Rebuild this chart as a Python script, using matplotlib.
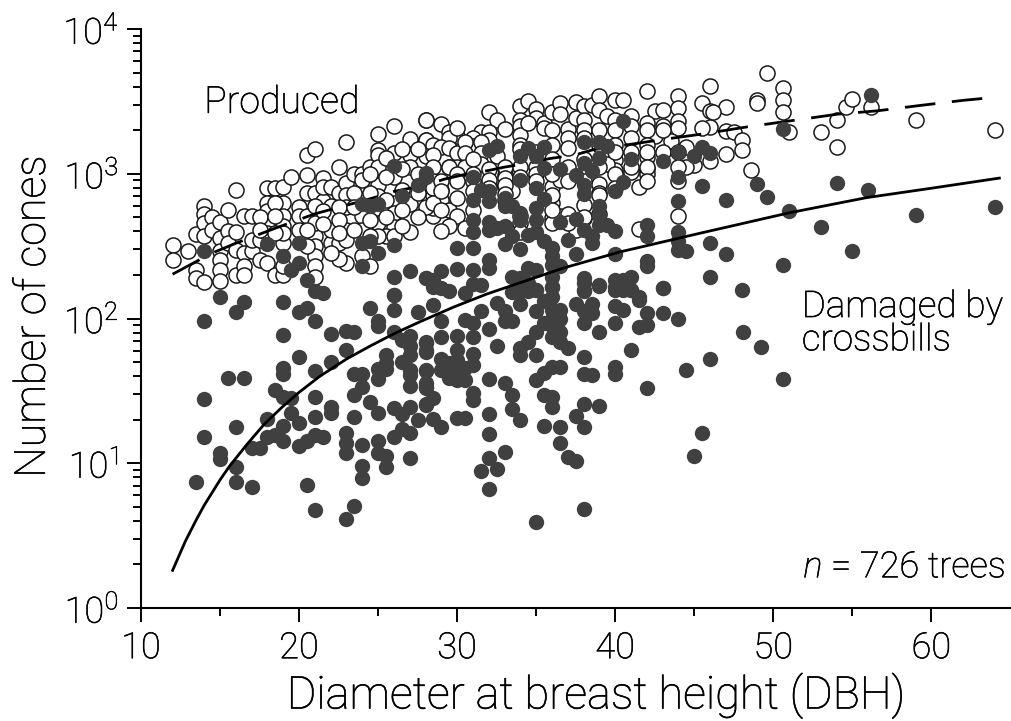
import numpy as np
import matplotlib
matplotlib.use('Agg')
import matplotlib.pyplot as plt
import matplotlib.patheffects as pe

plt.rcParams['font.family'] = ['Roboto', 'DejaVu Sans']
plt.rcParams['font.weight'] = 'light'
plt.rcParams['axes.labelweight'] = 'light'
plt.rcParams['mathtext.fontset'] = 'custom'
plt.rcParams['mathtext.rm'] = 'Roboto:light'
plt.rcParams['mathtext.it'] = 'Roboto:italic:light'
plt.rcParams['mathtext.default'] = 'regular'

# values; cones are kept as log10 because the axis is log
dbh_damaged = [
    15, 16.5, 16, 14, 19, 20, 20.5, 21, 19, 22, 23, 23.5, 24.5, 26, 26, 25, 25, 27.5, 26, 26.5,
    27, 27, 28, 28, 23, 20, 22, 19, 19, 21, 15.5, 16.5, 25.5, 25.5, 25, 25, 25.5, 27, 26.5, 27,
    27, 27, 28, 28, 23.5, 24, 24, 23.5, 18.5, 19, 19.5, 21, 14, 24.5, 25, 26, 28, 19.5, 20, 18,
    21, 22, 22, 23.5, 19, 16, 18, 18.5, 19, 17, 17.5, 14, 20, 20.5, 21, 21.5, 23, 23, 23, 24,
    25, 25, 25.5, 25.5, 26, 27, 27, 26.5, 27.5, 27, 26.5, 15, 15, 16, 16, 17, 13.5, 20.5, 24, 24,
    21, 23.5, 23,
    28.5, 29, 29, 30, 30.5, 31, 31, 31.5, 32, 32.5, 33, 33, 33.5, 32.5, 34, 33.5, 34, 34.5, 35, 35,
    35, 34.5, 34, 34, 35, 36, 36, 35.5, 36.5, 36.5, 36, 36, 36, 36.5, 36, 35.5, 37, 36.5, 37.5, 38,
    38, 38.5, 38, 38, 38.5, 39, 39, 40, 40, 40.5, 40, 40.5, 41, 41.5, 42, 42, 41.5, 43, 43, 44,
    41, 38, 40, 40, 38, 38.5, 36.5, 36, 35.5, 35, 44.5, 46, 42, 32, 33, 33.5, 33.5, 34, 31, 31,
    35.5, 36, 36, 38, 39, 37.5, 38, 35.5, 36.5, 36.5, 37, 37.5, 32, 32, 33, 32, 31.5, 32.5, 32, 38,
    35, 45.5, 45, 30, 30.5, 28.5, 29, 29, 29, 29.5, 30, 30.5, 30, 31, 30, 31, 30, 30.5, 29.5, 28,
    28, 28, 28, 28, 28.5, 28,
    28, 28, 31, 32, 32.5, 34, 34.5, 35, 35.5, 35.5, 36.5, 38, 38, 38.5, 39, 39.5, 39, 37.5, 40.5, 41,
    43, 44, 45, 45.5, 46, 44, 45.5, 44, 40.5, 40, 34, 38, 38, 31.5, 32, 31, 32, 33, 33, 33.5,
    34, 34, 35, 35, 35, 35.5, 39, 39, 37.5, 36.5, 31, 31, 32, 32, 32.5, 33, 33.5, 34.5, 35, 35.5,
    36, 36, 36, 36.5, 36, 36, 38, 38.5, 38.5, 39, 40, 39.5, 37, 37.5, 42, 42, 40, 42, 42, 44,
    44, 44, 44.5, 46, 46, 43, 30, 31, 33, 34, 32, 32, 30, 29, 31, 28, 28.5, 31, 31.5, 33.5,
    34.5, 35, 34, 34.5, 35, 38, 38, 39, 40, 40.5, 41, 40, 40.5, 41, 41.5, 28.5, 29, 29.5, 30.5,
    26, 27.5, 28, 26.5, 24, 24.5, 25, 24, 24.5, 26, 25, 24, 14, 18, 20, 19, 20, 19.5, 20.5, 21, 21.5,
    26, 27, 28, 26,
    56.2, 50.6, 47, 47, 48, 49, 49.6, 51, 53, 50.6, 54, 56, 55, 59, 64, 50.6, 49.2, 48.1,
]
log_damaged = [
    2.147, 2.117, 2.048, 1.986, 2.117, 2.048, 2.07, 1.986, 1.887, 1.892, 1.915, 1.91, 2.07, 2.159, 2.06, 1.98, 1.945, 2.044, 1.91, 1.853,
    1.876, 1.81, 1.83, 1.77, 1.78, 1.733, 1.70, 1.657, 1.615, 1.638, 1.588, 1.592, 1.749, 1.69, 1.65, 1.58, 1.65, 1.749, 1.70, 1.645,
    1.61, 1.535, 1.634, 1.53, 1.615, 1.62, 1.525, 1.472, 1.507, 1.456, 1.449, 1.46, 1.445, 1.426, 1.346, 1.38, 1.41, 1.35, 1.276, 1.306,
    1.318, 1.387, 1.35, 1.32, 1.26, 1.253, 1.18, 1.196, 1.157, 1.104, 1.104, 1.18, 1.122, 1.157, 1.196, 1.184, 1.207, 1.138, 1.074, 1.127,
    1.157, 1.074, 1.05, 0.977, 1.184, 1.035, 1.392, 1.34, 1.30, 1.207, 1.24, 1.028, 1.07, 0.977, 0.873, 0.839, 0.873, 0.85, 0.98, 0.896,
    0.677, 0.707, 0.617,
    2.09, 1.98, 1.875, 1.88, 1.99, 1.968, 1.87, 2.05, 1.926, 2.11, 2.05, 1.986, 1.98, 1.813, 2.10, 2.18, 2.19, 2.19, 2.2, 2.05,
    1.905, 1.84, 1.795, 1.75, 1.75, 2.22, 2.15, 2.118, 2.06, 2.0, 2.06, 2.0, 1.945, 1.91, 1.875, 1.97, 1.795, 1.84, 2.10, 2.244,
    2.19, 2.1, 2.05, 1.968, 2.037, 2.226, 1.905, 2.083, 1.968, 2.06, 2.22, 2.22, 2.2, 2.13, 2.04, 1.956, 1.938, 2.21, 2.04, 2.0,
    1.78, 1.733, 1.668, 1.617, 1.62, 1.61, 1.668, 1.664, 1.622, 1.576, 1.645, 1.72, 1.518, 1.585, 1.553, 1.472, 1.373, 1.3, 1.484, 1.438,
    1.472, 1.46, 1.387, 1.408, 1.396, 1.323, 1.247, 1.26, 1.247, 1.143, 1.04, 1.018, 1.341, 1.2, 1.076, 1.035, 0.949, 0.958, 0.823, 0.684,
    0.594, 1.207, 1.05, 1.31, 1.316, 1.304, 1.253, 1.719, 1.645, 1.588, 1.576, 1.576, 1.783, 1.756, 1.714, 1.68, 1.657, 1.657, 1.69, 1.84,
    1.783, 1.645, 1.553, 1.518, 1.45, 1.403,
    3.0, 2.98, 2.975, 3.166, 3.194, 3.12, 3.178, 3.12, 3.184, 3.04, 3.03, 3.217, 3.074, 3.016, 3.22, 3.19, 3.108, 2.99, 3.362, 3.104,
    3.085, 3.147, 3.12, 3.184, 3.143, 2.975, 2.912, 2.813, 2.942, 2.878, 2.954, 2.924, 2.862, 2.889, 2.878, 2.82, 2.809, 2.832, 2.774, 2.774,
    2.679, 2.728, 2.9, 2.679, 2.763, 2.825, 2.774, 2.717, 2.689, 2.666, 2.682, 2.601, 2.67, 2.613, 2.625, 2.636, 2.567, 2.578, 2.601, 2.532,
    2.486, 2.429, 2.371, 2.36, 2.29, 2.22, 2.613, 2.567, 2.52, 2.647, 2.606, 2.647, 2.54, 2.445, 2.643, 2.567, 2.445, 2.394, 2.36, 2.601,
    2.532, 2.475, 2.463, 2.525, 2.29, 2.21, 2.486, 2.486, 2.514, 2.482, 2.406, 2.348, 2.343, 2.325, 2.332, 2.279, 2.267, 2.24, 2.23, 2.29,
    2.348, 2.332, 2.279, 2.244, 2.198, 2.279, 2.198, 2.228, 2.267, 2.267, 2.29, 2.198, 2.198, 2.198, 2.15, 2.22, 2.21, 2.19, 2.175,
    3.055, 2.924, 3.005, 2.848, 2.79, 2.78, 2.79, 2.525, 2.532, 2.509, 2.452, 2.36, 2.463, 2.514, 2.525, 2.429, 2.382, 2.332, 2.267, 2.187, 2.175,
    2.29, 2.325, 2.279, 2.164,
    3.541, 3.309, 2.816, 2.445, 2.198, 2.931, 2.836, 2.746, 2.629, 2.371, 2.935, 2.889, 2.465, 2.712, 2.767, 1.582, 1.80, 1.91,
]
dbh_produced = [
    12, 12, 13, 13.5, 13.5, 13.5, 14, 14, 14, 14, 14, 14.5, 14.5, 15, 15, 15, 15, 15, 15, 15.5, 15.5, 15.5,
    16, 16, 16, 16, 16.5, 16.5, 16.5, 16.5, 17, 17, 17.5, 17, 17.5, 18, 18, 18, 18, 18, 18.5, 18.5, 19, 19, 19, 19, 19, 19.5,
    20, 20, 20.5, 21, 20.5, 20.5, 20.5, 21, 21, 21, 21, 21, 21.5, 21.5, 21.5, 22, 22, 22.5, 22.5, 23, 23, 23, 23, 23, 22.5, 22.5,
    23.5, 24, 24, 24, 24, 24.5, 24.5, 25, 25, 25, 25, 25, 25, 26, 26, 26, 26, 26, 26, 25.5, 25.5,
    27, 27, 27, 27, 27, 26.5, 28, 28, 28,
    28, 29, 29.5, 30, 29.5, 30, 28, 28.5, 29, 29.5, 30, 28, 28.5, 29.5, 30, 29.5, 28.5, 28, 28.5, 29, 29, 28.5, 29.5, 30, 29.5, 29, 28.5, 28,
    32, 32.5, 33, 31.5, 31, 31, 32, 32, 30.5, 30.5, 30.5, 31.5, 31.5, 31.5, 32.5, 32.5, 33, 33, 33.5, 30.5,
    34, 34.5, 35, 35, 34, 34, 34, 34.5, 35.5, 35.5, 36, 36.5, 36.5, 37.5, 37, 37.5, 38, 38, 38.5, 39, 40, 40.5, 39, 39.5, 40, 41, 41, 42, 42.5, 43, 42, 43, 42.5,
    44, 44, 44, 44, 43.5, 45.5, 46, 46, 46, 45.5, 44.5, 45, 44.5, 46, 42, 42, 42, 41, 41.5, 40, 40, 39.5, 39, 39, 38, 36, 36, 36.5, 36, 36.5, 36, 37.5, 38, 41.5, 44, 34, 34,
    47, 46.2, 47, 47.5, 48, 48, 47, 48.6, 49.6, 49, 49, 50.6, 50.6, 50.6, 51, 53, 54, 54, 54.6, 55, 56.2, 59, 64,
    18, 19, 19, 19, 20, 21, 21, 21, 22, 22, 22, 22, 23, 23, 24, 24, 25, 25, 26,
    17.5, 17.5, 18.5, 18.5, 18.5, 20.5, 20.5, 21.5, 21.5, 22.5, 22.5, 22.5, 23.5, 23.5, 23.5, 24.5, 24.5, 24.5, 24.5,
    25.5, 25.5, 25.5, 26.5, 26.5, 26.5, 26.5, 27.5, 27.5, 27.5, 27.5,
    28.5, 28.5, 28.5, 29, 29, 29, 30, 30, 30, 31, 31, 31, 31, 31, 32, 32, 32, 33, 33, 33, 33, 33,
    34, 34, 34, 34, 34, 35, 35, 35, 35, 36, 36, 36, 36, 36, 36, 37, 37, 37, 37, 37, 37,
    38, 38, 38, 38, 38, 38, 39, 39, 39, 39, 39, 40, 40, 40, 40, 40, 41, 41, 41,
    42, 42, 42, 42, 42, 43, 43, 44, 44, 44,
]
log_produced = [
    2.509, 2.405, 2.463, 2.585, 2.332, 2.279, 2.774, 2.72, 2.659, 2.567, 2.253, 2.7, 2.613, 2.67, 2.555, 2.463, 2.405, 2.336, 2.256, 2.747, 2.604, 2.52,
    2.889, 2.6, 2.475, 2.3, 2.705, 2.45, 2.36, 2.3, 2.705, 2.463, 2.405, 2.54, 2.54, 2.9, 2.8, 2.74, 2.66, 2.38, 2.9, 2.3, 2.91, 2.8, 2.705, 2.52, 2.3, 2.975,
    2.77, 2.705, 3.127, 3.17, 2.993, 2.866, 2.705, 2.866, 2.567, 2.5, 2.43, 2.36, 2.81, 2.97, 2.91, 2.91, 2.52, 3.05, 2.866, 3.217, 2.935, 2.855, 2.38, 2.77, 2.41, 2.52,
    3.0, 3.0, 2.955, 2.82, 2.43, 3.05, 2.36, 3.276, 3.165, 3.13, 3.05, 2.92, 2.66, 3.33, 3.14, 2.98, 2.8, 2.73, 2.63, 3.11, 2.57,
    3.24, 3.13, 3.05, 2.79, 2.6, 3.17, 3.369, 3.235, 2.74,
    3.369, 3.346, 3.29, 3.258, 3.247, 3.316, 3.235, 3.198, 3.184, 3.18, 3.143, 3.12, 3.13, 3.05, 3.05, 3.05, 3.05, 2.866, 2.855, 2.89, 2.82, 2.705, 2.751, 2.705, 2.64, 2.606, 2.76, 2.77,
    3.426, 3.373, 3.307, 3.288, 3.247, 3.19, 3.288, 3.235, 3.22, 3.143, 3.05, 3.22, 3.143, 3.07, 3.12, 2.98, 2.99, 2.92, 2.88, 2.624,
    3.465, 3.5, 3.447, 3.385, 3.373, 3.327, 3.27, 3.35, 3.35, 3.315, 3.428, 3.488, 3.41, 3.493, 3.31, 3.385, 3.465, 3.373, 3.478, 3.535, 3.51, 3.51, 3.44, 3.397, 3.373, 3.397, 3.328, 3.569, 3.433, 3.438, 3.35, 3.33, 3.263,
    3.535, 3.454, 3.362, 3.316, 3.225, 3.488, 3.604, 3.431, 3.32, 3.316, 3.184, 3.06, 3.05, 3.085, 3.113, 3.032, 3.0, 3.01, 2.906, 3.097, 3.028, 3.07, 2.927, 2.866, 2.781, 2.908, 2.797, 2.958, 2.694, 2.705, 2.66, 2.613, 2.694, 2.618, 2.705, 2.705, 2.66,
    3.459, 3.426, 3.297, 3.288, 3.235, 3.161, 3.138, 3.023, 3.696, 3.512, 3.488, 3.592, 3.512, 3.424, 3.286, 3.288, 3.369, 3.184, 3.461, 3.516, 3.459, 3.373, 3.304,
    2.59, 2.636, 2.59, 2.36, 2.613, 2.774, 2.659, 2.29, 2.774, 2.705, 2.613, 2.45, 2.613, 2.544, 2.705, 2.613, 2.843, 2.567, 2.567,
    2.7, 2.61, 2.8, 2.705, 2.59, 2.61, 2.5, 2.74, 2.65, 2.77, 2.68, 2.59, 2.87, 2.77, 2.61, 3.0, 2.87, 2.68, 2.57,
    2.98, 2.82, 2.7, 3.03, 2.89, 2.75, 2.64, 3.17, 3.0, 2.87, 2.7,
    2.95, 2.9, 2.8, 2.95, 2.88, 2.75, 3.0, 2.95, 2.83, 3.1, 3.0, 2.95, 2.88, 2.75, 3.03, 2.96, 2.9, 3.05, 2.97, 2.92, 2.86, 2.82,
    3.2, 3.17, 3.05, 2.98, 2.6, 3.15, 3.05, 3.0, 2.95, 3.3, 3.2, 3.1, 3.0, 2.85, 2.75, 3.25, 3.18, 3.05, 2.95, 2.72, 2.66,
    3.3, 3.25, 3.1, 3.0, 2.95, 2.7, 3.3, 3.2, 3.05, 2.85, 2.72, 3.3, 3.2, 3.15, 3.0, 2.9, 3.25, 3.15, 3.05,
    3.3, 3.2, 3.15, 3.05, 2.95, 3.3, 3.15, 3.15, 3.05, 2.95,
]

# fitted lines
fit_dbh_damaged = [12, 12.8, 13.5, 14, 15, 15.6, 16.7, 17.8, 18.9, 20, 21.3, 23, 24.5, 26.1, 27.7, 29.8, 31.9, 34.6, 36.7, 40.3, 45.4, 51, 55.9, 60, 64.3]
fit_log_damaged = [0.26, 0.46, 0.61, 0.71, 0.885, 0.98, 1.13, 1.27, 1.385, 1.49, 1.60, 1.72, 1.81, 1.90, 1.98, 2.08, 2.17, 2.27, 2.348, 2.46, 2.59, 2.73, 2.835, 2.90, 2.97]
fit_dbh_produced = [12, 13.5, 14.5, 16, 18.5, 21, 23.9, 25, 26, 28.1, 29.2, 30.4, 32, 33, 34.6, 35.8, 37.5, 38.6, 41.2, 42.9, 45.6, 48.3, 51.1, 54.1, 56.6, 59.3, 62, 64.2]
fit_log_produced = [2.306, 2.394, 2.452, 2.52, 2.624, 2.723, 2.809, 2.843, 2.878, 2.924, 2.963, 2.993, 3.023, 3.046, 3.074, 3.104, 3.131, 3.166, 3.207, 3.235, 3.276, 3.323, 3.366, 3.412, 3.435, 3.472, 3.507, 3.53]

x_ticks = [10, 20, 30, 40, 50, 60]
y_ticks = [1, 10, 100, 1000, 10000]
y_labels = ['$10^{0}$', '$10^{1}$', '$10^{2}$', '$10^{3}$', '$10^{4}$']

fig = plt.figure(figsize=(10.12, 7.21), dpi=100)
ax = fig.add_axes([141 / 1012, 113 / 721, 871 / 1012, 579 / 721])

ax.scatter(dbh_produced, 10 ** np.array(log_produced), s=118, facecolor='white', edgecolor='#1a1a1a',
           linewidth=1.1, zorder=2, clip_on=False)
ax.plot(fit_dbh_produced, 10 ** np.array(fit_log_produced), color='black', lw=2.0,
        dashes=(11, 6), dash_capstyle='butt', zorder=3)
ax.scatter(dbh_damaged, 10 ** np.array(log_damaged), s=122, color='#404040', linewidth=0, zorder=4, clip_on=False)
ax.plot(fit_dbh_damaged, 10 ** np.array(fit_log_damaged), color='black', lw=2.0, zorder=5)

ax.set_yscale('log')
ax.set_xlim(10, 65.1)
ax.set_ylim(1, 10000)
ax.spines['top'].set_visible(False)
ax.spines['right'].set_visible(False)
ax.spines['left'].set_linewidth(1.5)
ax.spines['bottom'].set_linewidth(1.5)

ax.set_xticks(x_ticks)
ax.set_xticks(np.arange(15, 65, 10), minor=True)
ax.set_yticks(y_ticks)
ax.set_yticklabels(y_labels)
ax.yaxis.set_minor_locator(matplotlib.ticker.LogLocator(base=10, subs=range(2, 10), numticks=12))
ax.yaxis.set_minor_formatter(matplotlib.ticker.NullFormatter())
ax.tick_params(which='major', length=10, width=1.4, labelsize=26, pad=6)
ax.tick_params(which='minor', length=6, width=1.4)

ax.set_xlabel('Diameter at breast height (DBH)', fontsize=32.5, labelpad=5)
ax.xaxis.label.set_x(0.522)
ax.set_ylabel('Number of cones', fontsize=31)
ax.yaxis.set_label_coords(-0.1, 0.503)

labels = [
    ax.text(14, 10 ** 3.42, 'Produced', fontsize=27, ha='left', va='baseline', zorder=6),
    ax.text(51.8, 10 ** 2.01, 'Damaged by', fontsize=26.5, ha='left', va='baseline', zorder=6),
    ax.text(51.8, 10 ** 1.78, 'crossbills', fontsize=26.5, ha='left', va='baseline', zorder=6),
    ax.text(51.9, 10 ** 0.21, '$\\mathit{n}$ = 726 trees', fontsize=26, ha='left', va='baseline', zorder=6),
]
# the source font is light but dark, a hairline stroke gets Roboto Light there
darken = [pe.withStroke(linewidth=0.4, foreground='black')]
for t in labels + ax.get_xticklabels() + ax.get_yticklabels() + [ax.xaxis.label, ax.yaxis.label]:
    t.set_color('black')
    t.set_path_effects(darken)

fig.savefig('out.png', dpi=100)
